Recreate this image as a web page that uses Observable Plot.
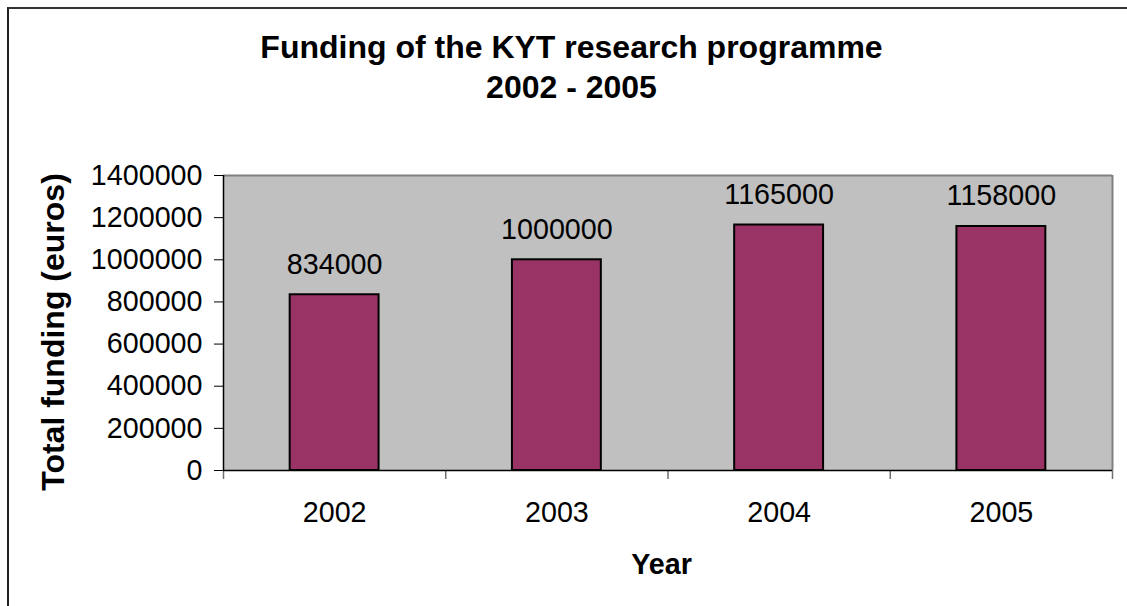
<!DOCTYPE html>
<html>
<head>
<meta charset="utf-8">
<script src="https://cdn.jsdelivr.net/npm/d3@7"></script>
<script src="https://cdn.jsdelivr.net/npm/@observablehq/plot@0.6"></script>
<style>
  html, body { margin: 0; padding: 0; background: #ffffff; }
  #wrap { position: relative; width: 1127px; height: 606px; overflow: hidden; }
  #edge { position: absolute; left: 7px; top: 7px; width: 1200px; height: 700px;
          border-left: 2px solid #222; border-top: 2px solid #333; box-sizing: border-box; }
  #chart { position: absolute; left: 0; top: 0; }
</style>
</head>
<body>
<div id="wrap"><div id="edge"></div><div id="chart"></div></div>
<script>
const years = [2002, 2003, 2004, 2005];
const funding = [834000, 1000000, 1165000, 1158000];
const yTicks = [0, 200000, 400000, 600000, 800000, 1000000, 1200000, 1400000];
const titleText = "Funding of the KYT research programme\n2002 - 2005";
const yTitle = "Total funding (euros)";
const xTitle = "Year";

const data = years.map((year, i) => ({year, value: funding[i]}));
const boundaries = [years[0] - 0.5, ...years.map(y => y + 0.5)];
const FONT = "'Liberation Sans', Arial, Helvetica, sans-serif";
const FS = 28.7;
const TFS = 32;

const chart = Plot.plot({
  width: 1127,
  height: 606,
  marginLeft: 223,
  marginRight: 15,
  marginTop: 175,
  marginBottom: 136,
  style: {fontFamily: FONT, fontSize: FS + "px", color: "black", background: "transparent", overflow: "visible"},
  x: {type: "linear", domain: [boundaries[0], boundaries[boundaries.length - 1]]},
  y: {domain: [0, yTicks[yTicks.length - 1]]},
  marks: [
    Plot.frame({fill: "#c0c0c0", stroke: "none"}),
    Plot.ruleY([yTicks[yTicks.length - 1]], {stroke: "#808080", strokeWidth: 2}),
    Plot.ruleX([boundaries[boundaries.length - 1]], {stroke: "#808080", strokeWidth: 2}),
    Plot.rectY(data, {x1: d => d.year - 0.2, x2: d => d.year + 0.2, y1: 0, y2: "value",
      fill: "#993366", stroke: "black", strokeWidth: 2}),
    Plot.text(data, {x: "year", y: "value", text: d => String(d.value),
      lineAnchor: "bottom", dy: -21, fontSize: FS, fill: "black"}),
    Plot.axisY({ticks: yTicks, tickSize: 9, tickPadding: 12, tickFormat: d => String(d),
      label: null, stroke: "black", fontSize: FS}),
    Plot.axisX({ticks: boundaries, tickSize: 9, tickFormat: () => "", label: null, stroke: "#707070", strokeWidth: 1.5}),
    Plot.axisX({ticks: years, tickSize: 0, tickPadding: 31, tickFormat: d => String(d), label: null, fontSize: FS}),
    Plot.ruleX([boundaries[0]], {stroke: "black", strokeWidth: 1.5}),
    Plot.ruleY([0], {stroke: "black", strokeWidth: 1.5}),
    Plot.text([titleText], {frameAnchor: "top", textAnchor: "middle", lineAnchor: "bottom", dx: -96.5, dy: -78,
      lineHeight: 40 / TFS, fontSize: TFS, fontWeight: "bold", fill: "black"}),
    Plot.text([yTitle], {frameAnchor: "left", textAnchor: "middle", lineAnchor: "middle", rotate: -90, dx: -169.5, dy: 9,
      fontSize: TFS, fontWeight: "bold", fill: "black"}),
    Plot.text([xTitle], {frameAnchor: "bottom", textAnchor: "middle", lineAnchor: "bottom", dx: -6.5, dy: 103,
      fontSize: FS, fontWeight: "bold", fill: "black"})
  ]
});
document.getElementById("chart").appendChild(chart);
</script>
</body>
</html>
